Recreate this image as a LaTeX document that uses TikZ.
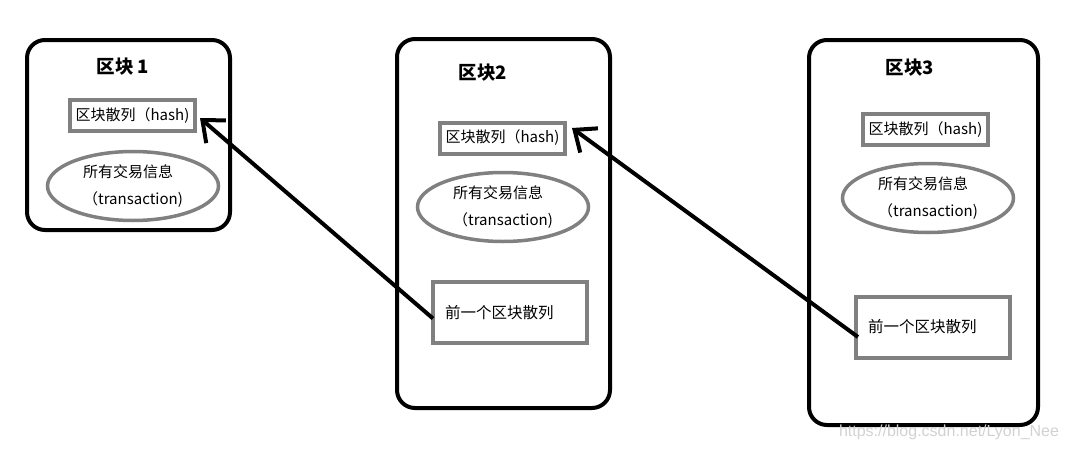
\documentclass[tikz,border=0pt]{standalone}
\usepackage{fontspec}
\setmainfont{Noto Sans CJK SC}
\newfontfamily\markfont{Liberation Sans}
\usetikzlibrary{shapes.geometric,arrows.meta}

\tikzset{
  block/.style={draw, line width=4pt, rounded corners=18pt, inner sep=0pt},
  blocktitle/.style={font=\fontsize{18.5}{20}\selectfont\bfseries},
  hashbox/.style={draw=gray, line width=4pt, minimum width=125pt, minimum height=31pt,
    inner sep=0pt, font=\fontsize{15}{17}\selectfont},
  txell/.style={draw=gray, line width=3.5pt, ellipse, minimum width=171pt, minimum height=69pt,
    inner sep=0pt, align=left, font=\fontsize{15}{27}\selectfont},
  prevbox/.style={draw=gray, line width=4pt, text width=130pt, inner xsep=12pt, inner ysep=0pt,
    minimum height=61pt, align=left, font=\fontsize{15.5}{17}\selectfont},
  link/.style={line width=4pt, -{Straight Barb[length=18pt, width=30pt, line width=4pt]}}
}

\begin{document}
\begin{tikzpicture}[x=1pt, y=-1pt]
\useasboundingbox (0,0) rectangle (1069,450);

% block 1
\node[block, minimum width=203pt, minimum height=190pt] (blk1) at (128.5,135) {};
\node[blocktitle] (title1) at (123,67) {区块 1};
\node[hashbox] (hash1) at (132.5,115.5) {区块散列（hash)};
\node[txell] (tx1) at (133,186) {所有交易信息\\（transaction)};

% block 2
\node[block, minimum width=213pt, minimum height=369pt] (blk2) at (503.5,223.5) {};
\node[blocktitle] (title2) at (483,73) {区块2};
\node[hashbox] (hash2) at (502.5,138) {区块散列（hash)};
\node[txell] (tx2) at (503,207) {所有交易信息\\（transaction)};
\node[prevbox] (prev2) at (510,312.5) {前一个区块散列};

% block 3
\node[block, minimum width=229pt, minimum height=385pt] (blk3) at (923.5,232.5) {};
\node[blocktitle] (title3) at (910,68) {区块3};
\node[hashbox] (hash3) at (925.5,129.5) {区块散列（hash)};
\node[txell] (tx3) at (928,198) {所有交易信息\\（transaction)};
\node[prevbox] (prev3) at (933,327) {前一个区块散列};

% links
\draw[link] ([shift={(2,6)}]prev2.west) -- ([shift={(3,2.5)}]hash1.east);
\draw[link] ([shift={(4,10)}]prev3.west) -- ([shift={(5,-10)}]hash2.east);

\node[font=\markfont\fontsize{16}{18}\selectfont, text=gray!35] (mark) at (949,432) {https://blog.csdn.net/Lyon\_Nee};
\end{tikzpicture}
\end{document}
